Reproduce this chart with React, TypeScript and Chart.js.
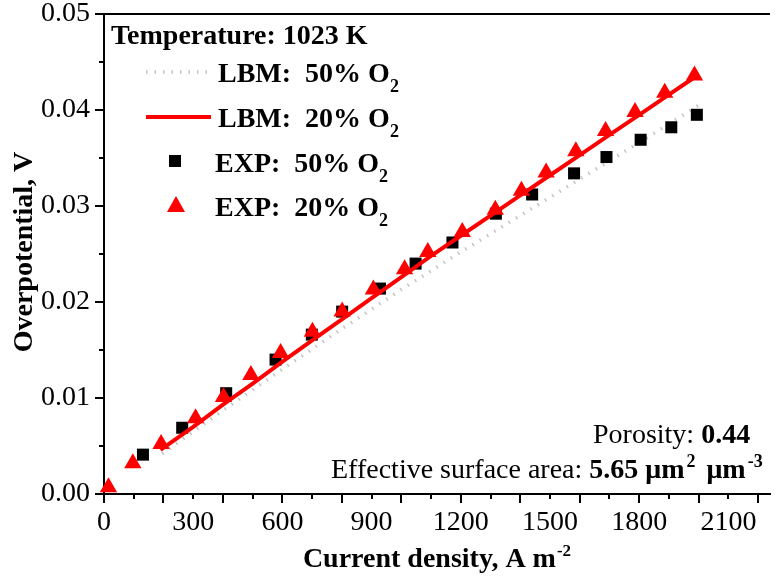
import React, { useEffect, useRef } from 'react';
import { Chart, registerables } from 'chart.js';

Chart.register(...registerables);

const FONT = '"Liberation Serif", "Times New Roman", serif';

// EXP: 20% O2 (red triangles)
const exp20X = [15, 97, 192, 308, 402, 494, 594, 701, 801, 906, 1011, 1089, 1205, 1316, 1404, 1487, 1587, 1687, 1786, 1886, 1986];
const exp20Y = [0.0007, 0.0032, 0.0052, 0.0079, 0.0101, 0.0124, 0.0147, 0.0169, 0.019, 0.0213, 0.0234, 0.0252, 0.0273, 0.0296, 0.0316, 0.0335, 0.0357, 0.0378, 0.0398, 0.0418, 0.0436];

// EXP: 50% O2 (black squares)
const exp50X = [131, 263, 411, 577, 699, 801, 928, 1048, 1172, 1318, 1440, 1581, 1690, 1805, 1908, 1994];
const exp50Y = [0.0041, 0.0069, 0.0105, 0.014, 0.0166, 0.019, 0.0214, 0.024, 0.0262, 0.0292, 0.0312, 0.0334, 0.0351, 0.0369, 0.0382, 0.0395];

// LBM: 20% O2 (red solid line)
const lbm20X = [190, 300, 400, 500, 600, 700, 800, 900, 1000, 1100, 1200, 1300, 1400, 1500, 1600, 1700, 1800, 1900, 2000];
const lbm20Y = [0.0046, 0.007, 0.0093, 0.0115, 0.0138, 0.016, 0.0182, 0.0204, 0.0226, 0.0248, 0.0269, 0.029, 0.0311, 0.0332, 0.0353, 0.0374, 0.0395, 0.0416, 0.0437];

// LBM: 50% O2 (light grey dotted line)
const lbm50X = [196, 400, 600, 800, 1000, 1200, 1400, 1600, 1800, 2000];
const lbm50Y = [0.0042, 0.0087, 0.013, 0.0172, 0.0213, 0.0252, 0.029, 0.0328, 0.0366, 0.0405];

// axis ticks
const xTickValues = [0, 100, 200, 300, 400, 500, 600, 700, 800, 900, 1000, 1100, 1200, 1300, 1400, 1500, 1600, 1700, 1800, 1900, 2000, 2100, 2200];
const xLabelValues = [0, 300, 600, 900, 1200, 1500, 1800, 2100];
const yTickValues = [0, 0.005, 0.01, 0.015, 0.02, 0.025, 0.03, 0.035, 0.04, 0.045, 0.05];
const yLabels = ['0.00', '', '0.01', '', '0.02', '', '0.03', '', '0.04', '', '0.05'];

const zip = (xs: number[], ys: number[]) => xs.map((x, i) => ({ x, y: ys[i] }));

type Part = { t: string; bold?: boolean; size?: number; dy?: number; gap?: number };

function drawRich(ctx: CanvasRenderingContext2D, x: number, y: number, parts: Part[], align: 'left' | 'center' = 'left') {
  const fontOf = (p: Part) => `${p.bold ? 'bold ' : ''}${p.size ?? 28}px ${FONT}`;
  let total = 0;
  for (const p of parts) {
    ctx.font = fontOf(p);
    total += ctx.measureText(p.t).width + (p.gap ?? 0);
  }
  let cx = align === 'center' ? x - total / 2 : x;
  ctx.textAlign = 'left';
  ctx.textBaseline = 'alphabetic';
  for (const p of parts) {
    ctx.font = fontOf(p);
    cx += p.gap ?? 0;
    ctx.fillText(p.t, cx, y + (p.dy ?? 0));
    cx += ctx.measureText(p.t).width;
  }
}

const decorPlugin = {
  id: 'decor',
  afterDraw(chart: any) {
    const ctx: CanvasRenderingContext2D = chart.ctx;
    const { left, right, top, bottom } = chart.chartArea;
    const xs = chart.scales.x;
    const ys = chart.scales.y;
    ctx.save();
    ctx.strokeStyle = '#000';
    ctx.fillStyle = '#000';
    ctx.lineWidth = 2;
    // top frame line
    ctx.beginPath();
    ctx.moveTo(left - 1, top);
    ctx.lineTo(right, top);
    ctx.stroke();
    // x ticks (outward)
    for (const v of xTickValues) {
      const px = Math.round(xs.getPixelForValue(v));
      const len = v % 200 === 0 ? 9 : 5;
      ctx.beginPath();
      ctx.moveTo(px, bottom);
      ctx.lineTo(px, bottom + len);
      ctx.stroke();
    }
    // y ticks (outward)
    yTickValues.forEach((v, i) => {
      const py = Math.round(ys.getPixelForValue(v));
      const len = i % 2 === 0 ? 9 : 5;
      ctx.beginPath();
      ctx.moveTo(left, py);
      ctx.lineTo(left - len, py);
      ctx.stroke();
    });

    // axis titles
    ctx.fillStyle = '#000';
    drawRich(ctx, (left + right) / 2, 567, [
      { t: 'Current density, A m', bold: true },
      { t: '-2', bold: true, size: 17, dy: -11, gap: 1 },
    ], 'center');
    ctx.save();
    ctx.translate(25, 252);
    ctx.rotate(-Math.PI / 2);
    ctx.font = `bold 28px ${FONT}`;
    ctx.textAlign = 'center';
    ctx.textBaseline = 'middle';
    ctx.fillText('Overpotential, V', 0, 0);
    ctx.restore();

    // legend
    drawRich(ctx, 111, 44, [{ t: 'Temperature: 1023 K', bold: true }]);
    // grey dotted sample
    ctx.save();
    ctx.strokeStyle = '#c4c4c4';
    ctx.lineWidth = 3.5;
    ctx.setLineDash([1.5, 7]);
    ctx.beginPath();
    ctx.moveTo(146, 72);
    ctx.lineTo(208, 72);
    ctx.stroke();
    ctx.restore();
    drawRich(ctx, 218, 82, [
      { t: 'LBM:  50% O', bold: true },
      { t: '2', bold: true, size: 18, dy: 10 },
    ]);
    // red line sample
    ctx.save();
    ctx.strokeStyle = '#ff0000';
    ctx.lineWidth = 4;
    ctx.beginPath();
    ctx.moveTo(146, 117);
    ctx.lineTo(211, 117);
    ctx.stroke();
    ctx.restore();
    drawRich(ctx, 218, 127, [
      { t: 'LBM:  20% O', bold: true },
      { t: '2', bold: true, size: 18, dy: 10 },
    ]);
    // square sample
    ctx.fillStyle = '#000';
    ctx.fillRect(169, 155, 12, 12);
    drawRich(ctx, 215, 172, [
      { t: 'EXP:  50% O', bold: true },
      { t: '2', bold: true, size: 18, dy: 10 },
    ]);
    // triangle sample
    ctx.fillStyle = '#ff0000';
    ctx.beginPath();
    ctx.moveTo(176, 196);
    ctx.lineTo(185, 212);
    ctx.lineTo(167, 212);
    ctx.closePath();
    ctx.fill();
    ctx.fillStyle = '#000';
    drawRich(ctx, 215, 216, [
      { t: 'EXP:  20% O', bold: true },
      { t: '2', bold: true, size: 18, dy: 10 },
    ]);

    // annotations
    drawRich(ctx, 593, 443, [
      { t: 'Porosity: ' },
      { t: '0.44', bold: true },
    ]);
    drawRich(ctx, 331, 478, [
      { t: 'Effective surface area: ' },
      { t: '5.65 μm', bold: true },
      { t: '2', bold: true, size: 18, dy: -11, gap: 2 },
      { t: ' μm', bold: true, gap: 4 },
      { t: '-3', bold: true, size: 18, dy: -11, gap: 2 },
    ]);
    ctx.restore();
  },
};

export default function App() {
  const ref = useRef<HTMLCanvasElement>(null);
  useEffect(() => {
    document.body.style.margin = '0';
    const canvas = ref.current!;
    const chart = new Chart(canvas, {
      type: 'scatter',
      data: {
        datasets: [
          {
            label: 'EXP:  20% O2',
            data: zip(exp20X, exp20Y),
            pointStyle: 'triangle',
            pointRadius: 10,
            backgroundColor: '#ff0000',
            borderWidth: 0,
            order: 1,
            clip: false,
          } as any,
          {
            label: 'LBM:  20% O2',
            data: zip(lbm20X, lbm20Y),
            showLine: true,
            pointRadius: 0,
            borderColor: '#ff0000',
            borderWidth: 4,
            order: 2,
          } as any,
          {
            label: 'EXP:  50% O2',
            data: zip(exp50X, exp50Y),
            pointStyle: 'rect',
            pointRadius: 8.5,
            backgroundColor: '#000000',
            borderWidth: 0,
            order: 3,
            clip: false,
          } as any,
          {
            label: 'LBM:  50% O2',
            data: zip(lbm50X, lbm50Y),
            showLine: true,
            pointRadius: 0,
            borderColor: '#c4c4c4',
            borderWidth: 3.5,
            borderDash: [1.5, 7],
            order: 4,
          } as any,
        ],
      },
      options: {
        responsive: false,
        animation: false,
        layout: { padding: { top: 14, left: 0, right: 0, bottom: 0 } },
        plugins: { legend: { display: false }, tooltip: { enabled: false } },
        scales: {
          x: {
            type: 'linear',
            position: 'bottom',
            min: 0,
            max: 2240,
            afterBuildTicks: (s: any) => {
              s.ticks = xTickValues.map((v) => ({ value: v }));
            },
            afterFit: (s: any) => {
              s.height = 87;
              s.paddingLeft = 0;
              s.paddingRight = 0;
            },
            ticks: {
              autoSkip: false,
              maxRotation: 0,
              minRotation: 0,
              padding: 3,
              color: '#000',
              font: { family: FONT, size: 28 },
              callback: (v: any) => (xLabelValues.includes(Number(v)) ? String(v) : ''),
            },
            grid: { display: true, drawOnChartArea: false, drawTicks: true, tickLength: 9, color: 'rgba(0,0,0,0)' },
            border: { display: true, color: '#000', width: 2 },
          },
          y: {
            type: 'linear',
            min: 0,
            max: 0.05,
            afterBuildTicks: (s: any) => {
              s.ticks = yTickValues.map((v) => ({ value: v }));
            },
            afterFit: (s: any) => {
              s.width = 104;
              s.paddingTop = 0;
              s.paddingBottom = 0;
            },
            ticks: {
              autoSkip: false,
              padding: 5,
              color: '#000',
              font: { family: FONT, size: 28 },
              callback: (_v: any, i: number) => yLabels[i] ?? '',
            },
            grid: { display: true, drawOnChartArea: false, drawTicks: true, tickLength: 9, color: 'rgba(0,0,0,0)' },
            border: { display: true, color: '#000', width: 2 },
          },
        },
      },
      plugins: [decorPlugin],
    });
    return () => chart.destroy();
  }, []);
  return (
    <div style={{ width: 780, height: 581 }}>
      <canvas ref={ref} width={780} height={581} />
    </div>
  );
}
